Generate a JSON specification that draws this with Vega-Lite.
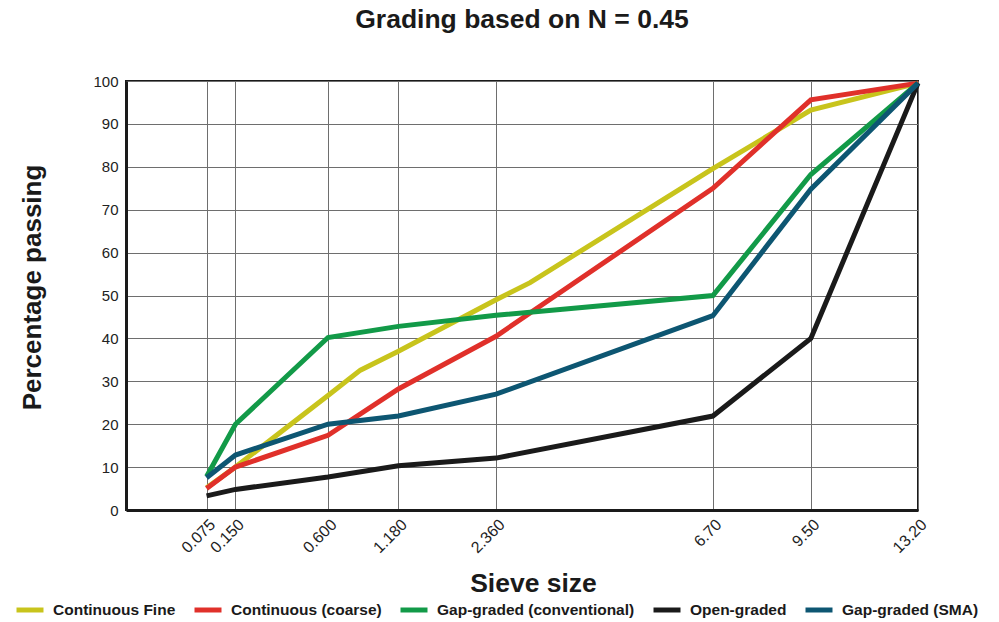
{
  "$schema": "https://vega.github.io/schema/vega-lite/v6.json",
  "autosize": "none",
  "width": 792,
  "height": 429,
  "padding": {"left": 126, "top": 81, "right": 81, "bottom": 112},
  "background": "white",
  "title": {
    "text": "Grading based on N = 0.45",
    "font": "Liberation Sans",
    "fontSize": 26.5,
    "fontWeight": "bold",
    "color": "#1a1a1a",
    "anchor": "middle",
    "offset": 40
  },
  "config": {
    "view": {"stroke": "#1a1a1a", "strokeWidth": 2},
    "font": "Liberation Sans"
  },
  "data": {
    "values": [
      {"series": "Continuous Fine", "size": 0.075, "pct": 5.2},
      {"series": "Continuous Fine", "size": 0.15, "pct": 10},
      {"series": "Continuous Fine", "size": 0.6, "pct": 26.7},
      {"series": "Continuous Fine", "size": 0.84, "pct": 32.6},
      {"series": "Continuous Fine", "size": 1.18, "pct": 37},
      {"series": "Continuous Fine", "size": 2.36, "pct": 49},
      {"series": "Continuous Fine", "size": 2.88, "pct": 53},
      {"series": "Continuous Fine", "size": 6.7, "pct": 79.6},
      {"series": "Continuous Fine", "size": 9.5, "pct": 93.2},
      {"series": "Continuous Fine", "size": 13.2, "pct": 99.5},
      {"series": "Continuous (coarse)", "size": 0.075, "pct": 5},
      {"series": "Continuous (coarse)", "size": 0.15, "pct": 10},
      {"series": "Continuous (coarse)", "size": 0.6, "pct": 17.4},
      {"series": "Continuous (coarse)", "size": 1.18, "pct": 28.2},
      {"series": "Continuous (coarse)", "size": 2.36, "pct": 40.5},
      {"series": "Continuous (coarse)", "size": 6.7, "pct": 75},
      {"series": "Continuous (coarse)", "size": 9.5, "pct": 95.6},
      {"series": "Continuous (coarse)", "size": 13.2, "pct": 99.5},
      {"series": "Gap-graded (conventional)", "size": 0.075, "pct": 7.8},
      {"series": "Gap-graded (conventional)", "size": 0.15, "pct": 20},
      {"series": "Gap-graded (conventional)", "size": 0.6, "pct": 40.2},
      {"series": "Gap-graded (conventional)", "size": 1.18, "pct": 42.8},
      {"series": "Gap-graded (conventional)", "size": 2.36, "pct": 45.4},
      {"series": "Gap-graded (conventional)", "size": 6.7, "pct": 50},
      {"series": "Gap-graded (conventional)", "size": 9.5, "pct": 78.2},
      {"series": "Gap-graded (conventional)", "size": 13.2, "pct": 99.5},
      {"series": "Open-graded", "size": 0.075, "pct": 3.3},
      {"series": "Open-graded", "size": 0.15, "pct": 4.8},
      {"series": "Open-graded", "size": 0.6, "pct": 7.7},
      {"series": "Open-graded", "size": 1.18, "pct": 10.3},
      {"series": "Open-graded", "size": 2.36, "pct": 12.1},
      {"series": "Open-graded", "size": 6.7, "pct": 21.9},
      {"series": "Open-graded", "size": 9.5, "pct": 40},
      {"series": "Open-graded", "size": 13.2, "pct": 99.5},
      {"series": "Gap-graded (SMA)", "size": 0.075, "pct": 7.5},
      {"series": "Gap-graded (SMA)", "size": 0.15, "pct": 12.8},
      {"series": "Gap-graded (SMA)", "size": 0.6, "pct": 20},
      {"series": "Gap-graded (SMA)", "size": 1.18, "pct": 21.9},
      {"series": "Gap-graded (SMA)", "size": 2.36, "pct": 27},
      {"series": "Gap-graded (SMA)", "size": 6.7, "pct": 45.3},
      {"series": "Gap-graded (SMA)", "size": 9.5, "pct": 74.8},
      {"series": "Gap-graded (SMA)", "size": 13.2, "pct": 99.5}
    ]
  },
  "mark": {"type": "line", "strokeWidth": 5, "strokeJoin": "miter", "clip": false},
  "encoding": {
    "x": {
      "field": "size",
      "type": "quantitative",
      "scale": {"type": "pow", "exponent": 0.442, "domain": [0, 13.2], "nice": false, "zero": true},
      "axis": {
        "values": [0.075, 0.15, 0.6, 1.18, 2.36, 6.7, 9.5, 13.2],
        "labelExpr": "datum.value < 5 ? format(datum.value, '.3f') : format(datum.value, '.2f')",
        "labelAngle": -45,
        "labelFontSize": 16,
        "labelColor": "#222",
        "labelPadding": 6,
        "labelOverlap": false,
        "labelBound": false,
        "ticks": false,
        "grid": true,
        "gridColor": "#6e6e6e",
        "gridWidth": 1,
        "gridOpacity": 1,
        "domainColor": "#1a1a1a",
        "domainWidth": 3,
        "title": "Sieve size",
        "titleFontSize": 26.5,
        "titleFontWeight": "bold",
        "titleColor": "#1a1a1a",
        "titleX": 407,
        "titleY": 73,
        "titleBaseline": "middle",
        "titleAlign": "center"
      }
    },
    "y": {
      "field": "pct",
      "type": "quantitative",
      "scale": {"domain": [0, 100], "nice": false},
      "axis": {
        "values": [0, 10, 20, 30, 40, 50, 60, 70, 80, 90, 100],
        "labelFontSize": 15,
        "labelColor": "#222",
        "labelPadding": 8,
        "labelOverlap": false,
        "ticks": false,
        "grid": true,
        "gridColor": "#6e6e6e",
        "gridWidth": 1,
        "gridOpacity": 1,
        "domainColor": "#1a1a1a",
        "domainWidth": 3,
        "title": "Percentage passing",
        "titleFontSize": 26,
        "titleFontWeight": "bold",
        "titleColor": "#1a1a1a",
        "titleAngle": -90,
        "titleX": -94,
        "titleY": 206,
        "titleBaseline": "middle",
        "titleAlign": "center"
      }
    },
    "color": {
      "field": "series",
      "type": "nominal",
      "scale": {
        "domain": ["Continuous Fine", "Continuous (coarse)", "Gap-graded (conventional)", "Open-graded", "Gap-graded (SMA)"],
        "range": ["#c8c41c", "#e0302a", "#129a48", "#1a1a1a", "#0d5672"]
      },
      "legend": {
        "title": null,
        "orient": "none",
        "direction": "horizontal",
        "legendX": -112,
        "legendY": 513,
        "symbolType": "stroke",
        "symbolStrokeWidth": 5,
        "symbolSize": 729,
        "labelFontSize": 15.5,
        "labelFontWeight": "bold",
        "labelColor": "#1a1a1a",
        "labelOffset": 7,
        "columnPadding": 8,
        "labelLimit": 300
      }
    }
  }
}
